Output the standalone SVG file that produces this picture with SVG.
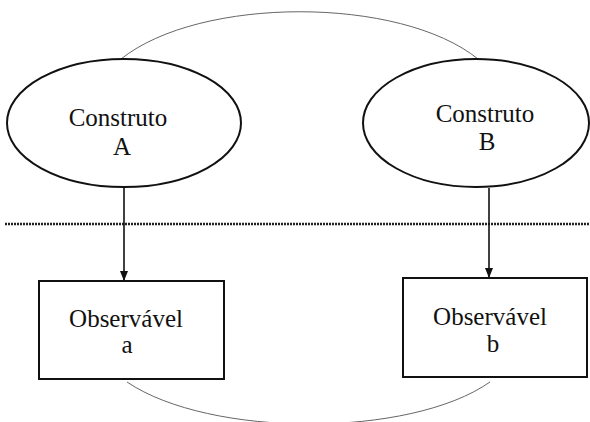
<svg xmlns="http://www.w3.org/2000/svg" width="590" height="422" viewBox="0 0 590 422">
<style>
.node{fill:#fff;stroke:#111;stroke-width:2}
.lbl{font-family:"Liberation Serif","Times New Roman",serif;font-size:25px;fill:#111;text-anchor:middle}
.arc{fill:none;stroke:#666;stroke-width:1}
.arr{stroke:#111;stroke-width:1.6;fill:none;marker-end:url(#ah)}
.sep{stroke:#222;stroke-width:2.5;stroke-dasharray:2 1;fill:none}
</style>
<defs>
<marker id="ah" viewBox="0 0 10 10" refX="10" refY="5" markerWidth="10" markerHeight="10" markerUnits="userSpaceOnUse" orient="auto">
<path d="M0,1 L10,5 L0,9 Z" fill="#111"/>
</marker>
</defs>
<rect width="590" height="422" fill="#fff"/>
<g id="connectors">
<path class="arc" d="M121,59 C200,-4 400,-4 478,59"/>
<path class="arc" d="M127,382 C210,438 410,438 490,382"/>
<line class="sep" x1="5" y1="224" x2="590" y2="224"/>
<line class="arr" x1="124" y1="187" x2="124" y2="281"/>
<line class="arr" x1="489" y1="188" x2="489" y2="278"/>
</g>
<g id="constructA">
<ellipse class="node" cx="124" cy="123" rx="117" ry="64"/>
<text class="lbl" x="118" y="126">Construto</text>
<text class="lbl" x="122" y="155">A</text>
</g>
<g id="constructB">
<ellipse class="node" cx="476" cy="123" rx="113" ry="64"/>
<text class="lbl" x="485" y="122">Construto</text>
<text class="lbl" x="487" y="150">B</text>
</g>
<g id="observableA">
<rect class="node" x="39" y="281" width="185" height="98"/>
<text class="lbl" x="126" y="327">Observável</text>
<text class="lbl" x="127" y="353">a</text>
</g>
<g id="observableB">
<rect class="node" x="403" y="278" width="184" height="99"/>
<text class="lbl" x="490" y="325">Observável</text>
<text class="lbl" x="493" y="352">b</text>
</g>
</svg>
